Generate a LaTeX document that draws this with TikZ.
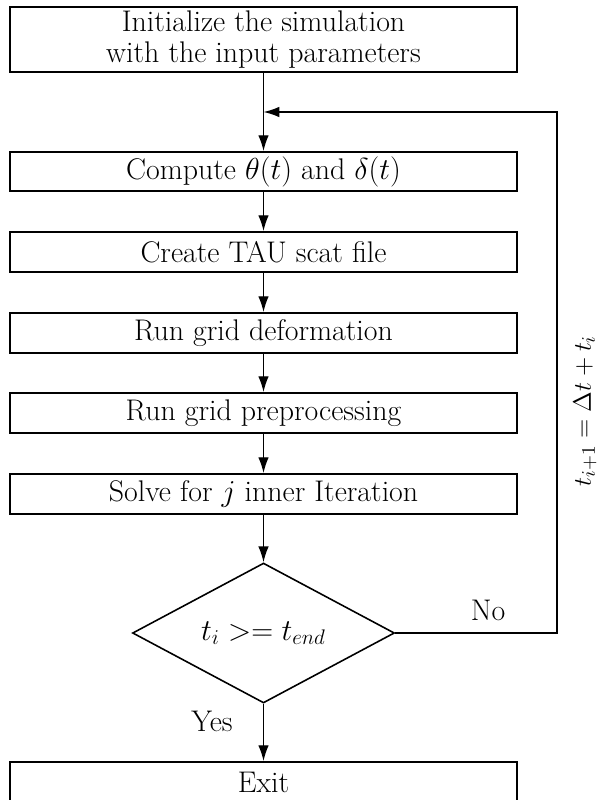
\documentclass[tikz,border=0pt]{standalone}
\usetikzlibrary{shapes.geometric,arrows.meta}
\begin{document}
\begin{tikzpicture}[x=0.02cm,y=-0.02cm,
  every node/.style={font=\fontsize{17}{17.5}\selectfont},
  stepbox/.style={draw,line width=1.05pt,rectangle,minimum width=10.14cm,minimum height=0.8cm,inner sep=0pt,align=center},
  decision/.style={draw,line width=0.9pt,diamond,shape aspect=1.87,minimum width=5.24cm,minimum height=2.8cm,inner sep=0pt},
  flow/.style={line width=0.8pt,-{Latex[length=9pt,width=6pt]}}]
\useasboundingbox (0,0) rectangle (600,800);

\node[stepbox,minimum height=1.3cm] (init) at (263.5,39.5) {Initialize the simulation\\with the input parameters};
\node[stepbox,minimum height=0.78cm] (comp) at (263.5,171.5) {Compute $\theta(t)$ and $\delta(t)$};
\node[stepbox] (tau) at (263.5,252) {Create TAU scat file};
\node[stepbox] (def) at (263.5,333) {Run grid deformation};
\node[stepbox] (pre) at (263.5,413) {Run grid preprocessing};
\node[stepbox] (solve) at (263.5,494) {Solve for $j$ inner Iteration};
\node[decision] (dec) at (263.5,633) {$t_i >= t_{end}$};
\node[stepbox] (exit) at (263.5,782) {Exit};

% loop-back corners and merge point
\coordinate (merge) at (263.5,112);
\coordinate (cornerB) at (557,633);
\coordinate (cornerT) at (557,112);

\draw[flow] (init) -- (comp);
\draw[flow] (comp) -- (tau);
\draw[flow] (tau) -- (def);
\draw[flow] (def) -- (pre);
\draw[flow] (pre) -- (solve);
\draw[flow] (solve) -- (dec);
\draw[flow] (dec) -- (exit);
\draw[flow] (dec.east) -- (cornerB) -- (cornerT) -- (merge);

\node (no) at (488,610) {No};
\node (yes) at (212,721) {Yes};
\node[rotate=90,font=\fontsize{15.5}{16}\selectfont] (upd) at (585,411) {$t_{i+1} = \Delta t + t_i$};
\end{tikzpicture}
\end{document}
